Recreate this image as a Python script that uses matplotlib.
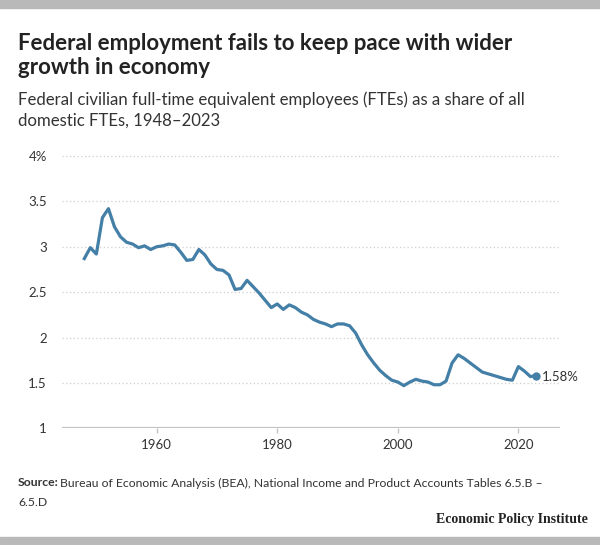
import matplotlib.pyplot as plt
from matplotlib.patches import Rectangle

# Federal civilian FTEs as a share of all domestic FTEs (%)
years = list(range(1948, 2024))
share = [
    2.87, 2.99, 2.92, 3.32, 3.42, 3.22, 3.11, 3.05, 3.03, 2.99,  # 1948-1957
    3.01, 2.97, 3.00, 3.01, 3.03, 3.02, 2.94, 2.85, 2.86, 2.97,  # 1958-1967
    2.91, 2.81, 2.75, 2.74, 2.69, 2.53, 2.54, 2.63, 2.56, 2.49,  # 1968-1977
    2.41, 2.33, 2.37, 2.31, 2.36, 2.33, 2.28, 2.25, 2.20, 2.17,  # 1978-1987
    2.15, 2.12, 2.15, 2.15, 2.13, 2.05, 1.92, 1.81, 1.72, 1.64,  # 1988-1997
    1.58, 1.53, 1.51, 1.47, 1.51, 1.54, 1.52, 1.51, 1.48, 1.48,  # 1998-2007
    1.52, 1.72, 1.81, 1.77, 1.72, 1.67, 1.62, 1.60, 1.58, 1.56,  # 2008-2017
    1.54, 1.53, 1.68, 1.63, 1.57, 1.58,                          # 2018-2023
]
y_ticks = [1, 1.5, 2, 2.5, 3, 3.5, 4]
y_labels = ["1", "1.5", "2", "2.5", "3", "3.5", "4%"]
x_ticks = [1960, 1980, 2000, 2020]

plt.rcParams['font.family'] = ['Lato', 'DejaVu Sans']

LINE = '#437fa6'
TEXT = '#333333'

fig = plt.figure(figsize=(6, 5.45), dpi=100)

# gray bars at top and bottom
fig.patches.append(Rectangle((0, 1 - 8 / 545), 1, 8 / 545, transform=fig.transFigure,
                             color='#b9b9b9', zorder=0))
fig.patches.append(Rectangle((0, 0), 1, 8 / 545, transform=fig.transFigure,
                             color='#b9b9b9', zorder=0))

ax = fig.add_axes([62 / 600, 0.2141, 498 / 600, 0.503])

for v in y_ticks[1:]:
    ax.axhline(v, color='#cfcfcf', lw=0.9, ls=(0, (1, 2)), zorder=1)
ax.axhline(1, color='#c4c4c4', lw=1.6, zorder=1)

ax.plot(years, share, color=LINE, lw=2.3, solid_joinstyle='round', zorder=3)
ax.plot(years[-1], share[-1], 'o', color=LINE, ms=5, zorder=4)
ax.annotate(f"{share[-1]:.2f}%", (years[-1], share[-1]), xytext=(4, -1),
            textcoords='offset points', va='center', ha='left',
            fontsize=9.5, color=TEXT)

ax.set_xlim(1944.3, 2026.9)
ax.set_ylim(1, 4.02)
ax.set_yticks(y_ticks)
ax.set_yticklabels(y_labels)
ax.set_xticks(x_ticks)
ax.tick_params(axis='y', length=0, pad=11, labelsize=9.5, labelcolor=TEXT)
ax.tick_params(axis='x', length=3.5, width=1, color='#c4c4c4', pad=4,
               labelsize=9.5, labelcolor=TEXT)
for s in ax.spines.values():
    s.set_visible(False)

fig.text(18 / 600, 1 - 44 / 545, "Federal employment fails to keep pace with wider",
         fontsize=16, fontweight='bold', color='#222222', va='center')
fig.text(18 / 600, 1 - 68 / 545, "growth in economy",
         fontsize=16, fontweight='bold', color='#222222', va='center')
fig.text(18 / 600, 1 - 100 / 545,
         "Federal civilian full-time equivalent employees (FTEs) as a share of all",
         fontsize=12.1, color=TEXT, va='center')
fig.text(18 / 600, 1 - 121 / 545, "domestic FTEs, 1948\u20132023",
         fontsize=12.1, color=TEXT, va='center')

src = fig.text(18 / 600, 1 - 483 / 545, "Source:", fontsize=8.8, fontweight='bold',
               color=TEXT, va='center')
fig.canvas.draw()
bb = src.get_window_extent()
fig.text((bb.x1 + 1) / 600, 1 - 483 / 545,
         "Bureau of Economic Analysis (BEA), National Income and Product Accounts Tables 6.5.B \u2013",
         fontsize=8.8, color=TEXT, va='center')
fig.text(18 / 600, 1 - 502 / 545, "6.5.D", fontsize=8.8, color=TEXT, va='center')

fig.text(588 / 600, 1 - 519 / 545, "Economic Policy Institute",
         family=['Liberation Serif', 'DejaVu Serif'], fontweight='bold',
         fontsize=10, color='#222222', ha='right', va='center')

fig.savefig('out.png', dpi=100)
